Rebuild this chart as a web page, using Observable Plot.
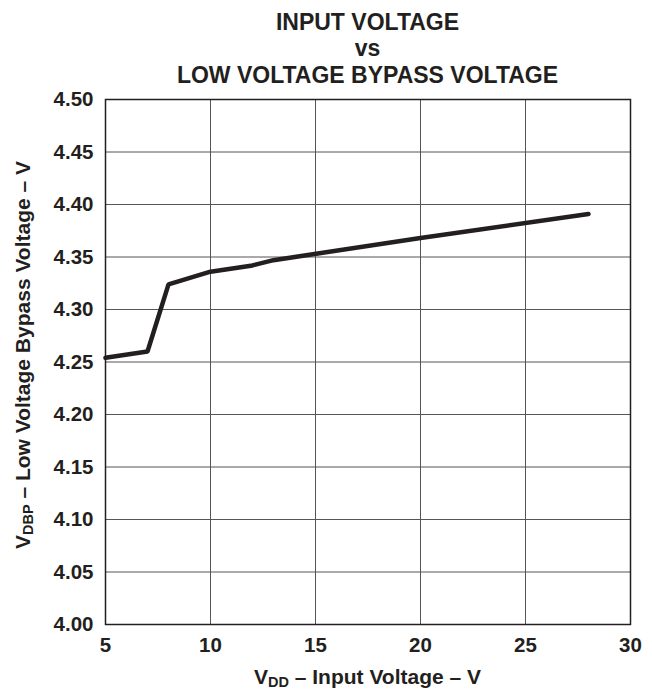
<!DOCTYPE html>
<html>
<head>
<meta charset="utf-8">
<script src="https://cdn.jsdelivr.net/npm/d3@7"></script>
<script src="https://cdn.jsdelivr.net/npm/@observablehq/plot@0.6"></script>
<style>
  html, body { margin: 0; padding: 0; background: #fff; }
</style>
</head>
<body>
<div id="chart"></div>
<script>
const vdd  = [5, 7, 8, 10, 12, 13, 20, 28];
const vdbp = [4.254, 4.260, 4.324, 4.336, 4.342, 4.347, 4.368, 4.391];
const xTicks = [5, 10, 15, 20, 25, 30];
const yTicks = [4.00, 4.05, 4.10, 4.15, 4.20, 4.25, 4.30, 4.35, 4.40, 4.45, 4.50];
const titleLines = ["INPUT VOLTAGE", "vs", "LOW VOLTAGE BYPASS VOLTAGE"];

const data = vdd.map((x, i) => ({x, y: vdbp[i]}));
const W = 652, H = 690;

const chart = Plot.plot({
  width: W, height: H,
  marginTop: 99, marginLeft: 105, marginRight: 22, marginBottom: 66,
  style: {fontFamily: "'Liberation Sans', Arial, sans-serif", fontWeight: "bold", fontSize: "20.5px", color: "#231f20", background: "#fff"},
  x: {domain: [5, 30], label: null},
  y: {domain: [4.0, 4.5], label: null},
  marks: [
    Plot.gridX(xTicks, {stroke: "#555", strokeOpacity: 1, strokeWidth: 1}),
    Plot.gridY(yTicks, {stroke: "#555", strokeOpacity: 1, strokeWidth: 1}),
    Plot.frame({stroke: "#231f20", strokeWidth: 1.5}),
    Plot.axisX(xTicks, {tickSize: 0, tickPadding: 13, tickFormat: d => String(d), fill: "#231f20"}),
    Plot.axisY(yTicks, {tickSize: 0, tickPadding: 12, tickFormat: d3.format(".2f"), fill: "#231f20"}),
    Plot.line(data, {x: "x", y: "y", stroke: "#231f20", strokeWidth: 4.5, strokeLinejoin: "miter", strokeLinecap: "round"})
  ]
});

document.getElementById("chart").appendChild(chart);

const svg = d3.select(chart);
const cx = (105 + (W - 22)) / 2;
const tg = svg.append("g").attr("font-family", "'Liberation Sans', Arial, sans-serif").attr("font-weight", "bold").attr("fill", "#231f20");
[30, 56, 83].forEach((yy, i) => {
  tg.append("text").attr("x", cx).attr("y", yy).attr("text-anchor", "middle").attr("font-size", 23).text(titleLines[i]);
});

// x axis label with subscript
const xl = tg.append("text").attr("x", cx).attr("y", 684).attr("text-anchor", "middle").attr("font-size", 21);
xl.append("tspan").text("V");
xl.append("tspan").attr("font-size", 14.5).attr("dy", 3).text("DD");
xl.append("tspan").attr("dy", -3).text(" – Input Voltage – V");

// y axis label with subscript
const yl = tg.append("text").attr("transform", `translate(30, 355) rotate(-90)`).attr("text-anchor", "middle").attr("font-size", 21);
yl.append("tspan").text("V");
yl.append("tspan").attr("font-size", 14.5).attr("dy", 3).text("DBP");
yl.append("tspan").attr("dy", -3).text(" – Low Voltage Bypass Voltage – V");
</script>
</body>
</html>
